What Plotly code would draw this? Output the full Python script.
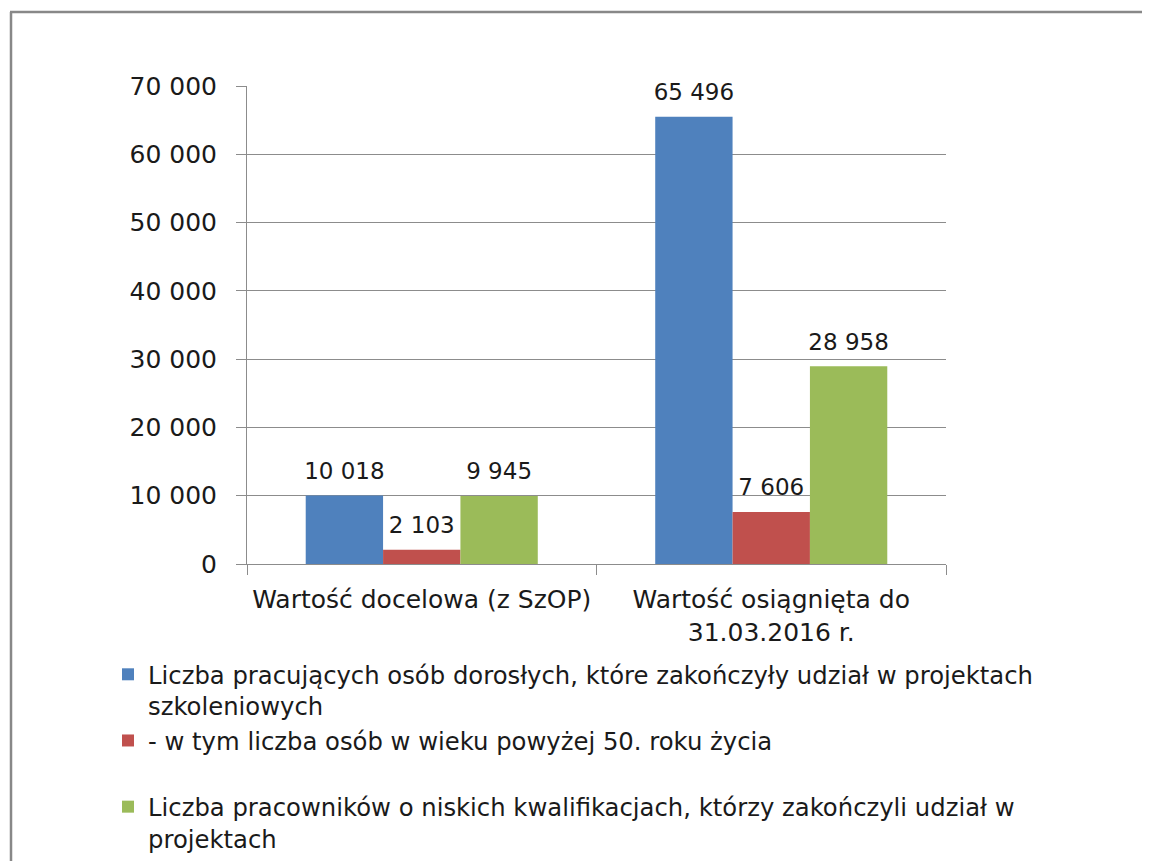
import plotly.graph_objects as go

categories = ["Wartość docelowa (z SzOP)", "Wartość osiągnięta do<br>31.03.2016 r."]
series_names = [
    "Liczba pracujących osób dorosłych, które zakończyły udział w projektach<br>szkoleniowych",
    "- w tym liczba osób w wieku powyżej 50. roku życia<br> ",
    "Liczba pracowników o niskich kwalifikacjach, którzy zakończyli udział w<br>projektach",
]
values_workers = [10018, 65496]
values_50plus = [2103, 7606]
values_lowskill = [9945, 28958]
colors = ["#4F81BD", "#C0504D", "#9BBB59"]
y_ticks = [0, 10000, 20000, 30000, 40000, 50000, 60000, 70000]

FONT = "DejaVu Sans"
GAP = 0.336
fig = go.Figure()
all_vals = [values_workers, values_50plus, values_lowskill]
for name, vals, col in zip(series_names, all_vals, colors):
    fig.add_trace(go.Bar(
        x=categories, y=vals, name=name, marker=dict(color=col, line=dict(width=0)),
        hoverinfo="y",
    ))
# data labels, grouped like the bars
for i, vals in enumerate(all_vals):
    fig.add_trace(go.Scatter(
        x=categories, y=vals, mode="markers+text", showlegend=False, hoverinfo="skip",
        marker=dict(size=16, color="rgba(0,0,0,0)"),
        texttemplate="%{y:,d}", textposition="top center", cliponaxis=False,
        textfont=dict(family=FONT, size=23, color="#1a1a1a"),
    ))

OFF = 8  # page body margin
W, H = 1150, 861
L, R, T, B = 247 - OFF, 946 - OFF, 86 - OFF, 564 - OFF
def px(x): return (x - OFF - L) / (R - L)
def py(y): return (B - (y - OFF)) / (B - T)

fig.update_layout(
    width=W, height=H,
    margin=dict(l=L, r=W - R, t=T, b=H - B, autoexpand=False),
    paper_bgcolor="white", plot_bgcolor="white",
    separators=", ",
    barmode="group", bargap=GAP, bargroupgap=0,
    scattermode="group", scattergap=GAP,
    font=dict(family=FONT, size=24, color="#1a1a1a"),
    showlegend=True,
    legend=dict(x=px(108), y=py(652), xanchor="left", yanchor="top",
                font=dict(family=FONT, size=24.3, color="#1a1a1a"),
                valign="top", traceorder="normal", bgcolor="rgba(0,0,0,0)"),
    shapes=[
        dict(type="line", xref="paper", yref="paper", x0=px(11), x1=px(11), y0=py(12), y1=py(880),
             line=dict(color="#888888", width=2.5)),
        dict(type="line", xref="paper", yref="paper", x0=px(10), x1=px(1170), y0=py(12), y1=py(12),
             line=dict(color="#888888", width=2.5)),
    ],
)
fig.update_yaxes(range=[0, 70000], tickvals=y_ticks, tickformat=",d",
                 showgrid=True, gridcolor="#8c8c8c", gridwidth=1,
                 showline=True, linecolor="#8c8c8c", linewidth=1,
                 ticks="outside", ticklen=10, tickcolor="#8c8c8c", ticklabelstandoff=14,
                 tickfont=dict(family=FONT, size=25), zeroline=False)
fig.update_xaxes(showline=True, linecolor="#8c8c8c", linewidth=1,
                 ticks="outside", ticklen=10, tickcolor="#8c8c8c", tickson="boundaries",
                 ticklabelstandoff=13,
                 tickfont=dict(family=FONT, size=25))
fig.write_html("out.html")
